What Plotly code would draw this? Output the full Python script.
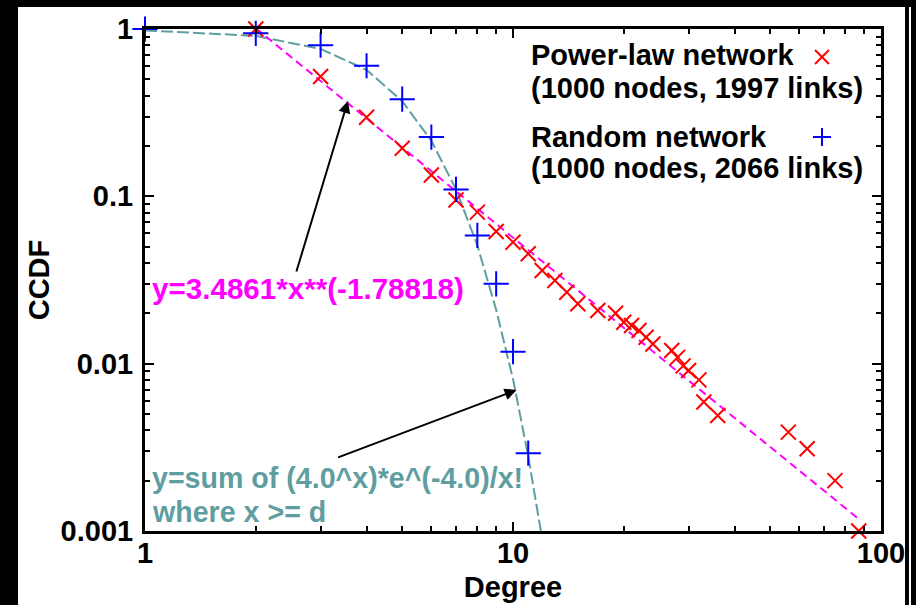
import plotly.graph_objects as go
import math

# ---- data ----
pl_degree = [2, 3, 4, 5, 6, 7, 8, 9, 10, 11, 12, 13, 14, 15, 17, 19, 20, 21, 22, 23, 24,
             27, 28, 29, 30, 32, 33, 36, 56, 63, 75, 87]
pl_ccdf = [1.0, 0.52, 0.297, 0.194, 0.134, 0.095, 0.0805, 0.0617, 0.0532, 0.0454, 0.036,
           0.0314, 0.0267, 0.0228, 0.0208, 0.0200, 0.0177, 0.0169, 0.0158, 0.0144, 0.0131,
           0.0120, 0.0109, 0.0097, 0.0091, 0.0080, 0.0059, 0.0049, 0.0039, 0.0031, 0.0020, 0.0010]

rn_degree = [1, 2, 3, 4, 5, 6, 7, 8, 9, 10, 11]
rn_ccdf = [1.0, 0.942, 0.80, 0.603, 0.381, 0.226, 0.11, 0.0584, 0.030, 0.0118, 0.00292]

poisson_degree = [1, 2, 3, 4, 5, 6, 7, 8, 9, 10, 11, 12]
poisson_ccdf = [0.98, 0.91, 0.76, 0.57, 0.37, 0.215, 0.11, 0.051, 0.021, 0.0081, 0.0028, 0.0009]

fit_degree = [2, 87]
fit_ccdf = [1.01, 0.00118]

x_ticks = [1, 10, 100]
x_ticktext = ["1", "10", "100"]
y_ticks = [0.001, 0.01, 0.1, 1]
y_ticktext = ["0.001", "0.01", "0.1", "1"]

FONT = "Liberation Sans, Arial, sans-serif"
FS = 29
RED = "#ff0000"
BLUE = "#0000ff"
MAGENTA = "#ff00ff"
TEAL = "#5f9ea0"

W, H = 916, 605
L, R, T, B = 145, 35, 29, 74
PW, PH = W - L - R, H - T - B


def px(x):
    return (x - L) / PW


def py(y):
    return (H - B - y) / PH


def bfont(color="black", size=FS):
    return dict(family=FONT, size=size, color=color, weight="bold")


fig = go.Figure()

fig.add_trace(go.Scatter(x=poisson_degree, y=poisson_ccdf, mode="lines",
                         line=dict(color=TEAL, width=2, dash="12px,4px"),
                         showlegend=False, hoverinfo="skip"))
fig.add_trace(go.Scatter(x=fit_degree, y=fit_ccdf, mode="lines",
                         line=dict(color=MAGENTA, width=2, dash="8px,5px"),
                         showlegend=False, hoverinfo="skip"))
fig.add_trace(go.Scatter(x=pl_degree, y=pl_ccdf, mode="markers", name="Power-law network",
                         marker=dict(symbol="x-thin", size=15, line=dict(color=RED, width=2)),
                         cliponaxis=False, showlegend=False))
fig.add_trace(go.Scatter(x=rn_degree, y=rn_ccdf, mode="markers", name="Random network",
                         marker=dict(symbol="cross-thin", size=18, line=dict(color=BLUE, width=2)),
                         cliponaxis=False, showlegend=False))

minor_x = [v * d for d in (1, 10) for v in range(2, 10)]
minor_y = [v * d for d in (0.001, 0.01, 0.1) for v in range(2, 10)]

axis_common = dict(type="log", showline=True, linecolor="black", linewidth=3,
                   mirror="allticks", ticks="inside", ticklen=9, tickwidth=2,
                   tickcolor="black", showgrid=False, zeroline=False,
                   tickfont=bfont())

fig.update_xaxes(**axis_common, range=[0, 2], tickvals=x_ticks, ticktext=x_ticktext,
                 minor=dict(tickvals=minor_x, ticks="inside", ticklen=5, tickwidth=2,
                            tickcolor="black", showgrid=False),
                 title=dict(text="Degree", font=bfont(), standoff=9),
                 ticklabelstandoff=-6)
fig.update_yaxes(**axis_common, range=[-3, 0], tickvals=y_ticks, ticktext=y_ticktext,
                 minor=dict(tickvals=minor_y, ticks="inside", ticklen=5, tickwidth=2,
                            tickcolor="black", showgrid=False),
                 title=dict(text="CCDF", font=bfont(), standoff=3),
                 ticklabelstandoff=3)

annotations = []
# legend texts
for text, yy in [("Power-law network", 55), ("(1000 nodes, 1997 links)", 88),
                 ("Random network", 137), ("(1000 nodes, 2066 links)", 168)]:
    annotations.append(dict(xref="paper", yref="paper", x=px(529), y=py(yy), text=text,
                            showarrow=False, xanchor="left", yanchor="middle",
                            font=bfont()))
# formula labels
annotations.append(dict(xref="paper", yref="paper", x=px(150), y=py(288),
                        text="y=3.4861*x**(-1.78818)", showarrow=False,
                        xanchor="left", yanchor="middle", font=bfont(MAGENTA, 29.6)))
annotations.append(dict(xref="paper", yref="paper", x=px(150), y=py(478),
                        text="y=sum of (4.0^x)*e^(-4.0)/x!", showarrow=False,
                        xanchor="left", yanchor="middle", font=bfont(TEAL, 28.6)))
annotations.append(dict(xref="paper", yref="paper", x=px(150), y=py(512),
                        text="where x >= d", showarrow=False,
                        xanchor="left", yanchor="middle", font=bfont(TEAL, 28.6)))
# arrows
annotations.append(dict(xref="x", yref="y", x=math.log10(3.56), y=math.log10(0.371),
                        ax=-52, ay=172, text="", showarrow=True, arrowhead=2,
                        arrowsize=1.2, arrowwidth=2, arrowcolor="black"))
annotations.append(dict(xref="x", yref="y", x=math.log10(10.23), y=math.log10(0.00696),
                        ax=-180, ay=68, text="", showarrow=True, arrowhead=2,
                        arrowsize=1.2, arrowwidth=2, arrowcolor="black"))

shapes = []
# legend key symbols
cx, cy, hs = 822, 57, 7
shapes.append(dict(type="line", xref="paper", yref="paper", x0=px(cx - hs), y0=py(cy - hs),
                   x1=px(cx + hs), y1=py(cy + hs), line=dict(color=RED, width=2)))
shapes.append(dict(type="line", xref="paper", yref="paper", x0=px(cx - hs), y0=py(cy + hs),
                   x1=px(cx + hs), y1=py(cy - hs), line=dict(color=RED, width=2)))
cx, cy, hs = 822, 137, 9
shapes.append(dict(type="line", xref="paper", yref="paper", x0=px(cx - hs), y0=py(cy),
                   x1=px(cx + hs), y1=py(cy), line=dict(color=BLUE, width=2)))
shapes.append(dict(type="line", xref="paper", yref="paper", x0=px(cx), y0=py(cy - hs),
                   x1=px(cx), y1=py(cy + hs), line=dict(color=BLUE, width=2)))
# black frame strips of the image
for (x0, y0, x1, y1) in [(0, 0, 18, H), (0, 0, W, 7), (905, 0, 909, H), (911, 0, W, H)]:
    shapes.append(dict(type="rect", xref="paper", yref="paper", x0=px(x0), x1=px(x1),
                       y0=py(y1), y1=py(y0), fillcolor="black", line=dict(width=0)))

fig.update_layout(width=W, height=H, margin=dict(l=L, r=R, t=T, b=B, autoexpand=False),
                  paper_bgcolor="white", plot_bgcolor="white",
                  annotations=annotations, shapes=shapes, showlegend=False,
                  font=bfont())

fig.write_html("out.html", config={"displayModeBar": False},
               post_script="document.body.style.margin='0';document.body.style.overflow='hidden';")
